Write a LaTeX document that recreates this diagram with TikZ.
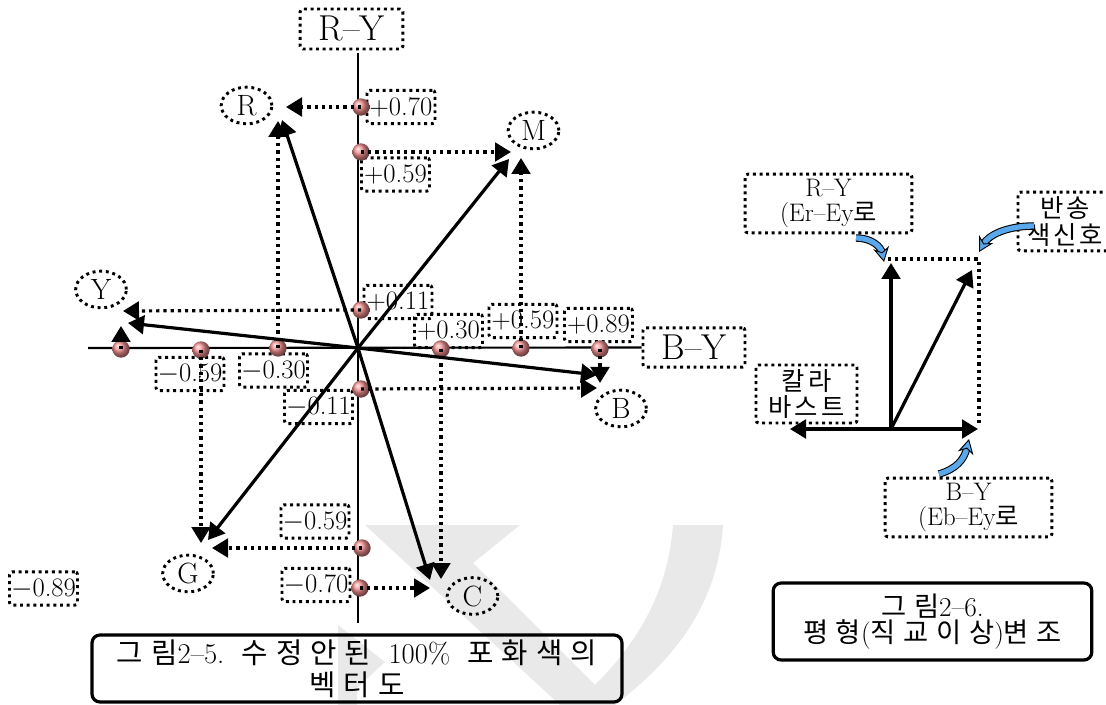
\documentclass[tikz,border=0pt]{standalone}
\usepackage{fontspec}
\newfontfamily\krf[LetterSpace=12]{Noto Sans CJK KR}
\newfontfamily\krw[LetterSpace=28]{Noto Sans CJK KR}
\usetikzlibrary{arrows.meta,shapes.geometric}
\definecolor{wm}{RGB}{233,233,233}
\definecolor{ballc}{RGB}{238,140,140}
\definecolor{arrblue}{RGB}{88,168,235}
\newcommand\numfont{\fontsize{20}{21}\selectfont}
\newcommand\lblfont{\fontsize{22}{23}\selectfont}
\newcommand\bigfont{\fontsize{27}{28}\selectfont}
\newcommand\midfont{\fontsize{19}{19}\selectfont}
\newcommand\capfont{\fontsize{21.5}{24}\selectfont}
\newcommand\capfontb{\fontsize{20.5}{20}\selectfont}
\tikzset{
  dotln/.style={line width=2.4pt, dash pattern=on 2.4pt off 3pt},
  dotbox/.style={draw, line width=2.2pt, dash pattern=on 2.2pt off 2.8pt, rounded corners=2pt, inner sep=0pt, align=center},
  numbox/.style={dotbox, minimum width=51pt, minimum height=25pt, font=\numfont},
  ell/.style={ellipse, draw, line width=2.2pt, dash pattern=on 2.2pt off 2.8pt, minimum width=38pt, minimum height=27.5pt, inner sep=0pt, font=\lblfont},
  arrtip/.style={-{Triangle[length=12pt,width=14pt]}},
  solidarr/.style={line width=2.4pt, arrtip},
  dotarr/.style={dotln, arrtip},
  axisln/.style={line width=1.6pt},
  ballnode/.style={circle, minimum size=13pt, inner sep=0pt, shade, ball color=ballc},
  capbox/.style={draw, line width=2.4pt, rounded corners=6pt, align=center, inner sep=0pt},
  bluearr/.style={draw=arrblue, line width=4pt,
     preaction={draw=black, line width=5.6pt, arrows=-, shorten >=7pt},
     -{Stealth[length=11pt,width=12pt,fill=arrblue,color=black,line width=0.7pt]}}
}
\begin{document}
\begin{tikzpicture}[x=0.75pt,y=-0.75pt]
\useasboundingbox (0,0) rectangle (1106,705);
% watermark
\fill[wm] (365,525) -- (520,525) -- (473,563) -- (595,685)
   .. controls (640,640) and (668,590) .. (673,525) -- (723,525)
   .. controls (718,600) and (680,655) .. (615,705) -- (560,705) -- cycle;
\fill[wm] (338,625) -- (385,662) -- (357,688) -- (357,705) -- (338,705) -- cycle;

% ===== left diagram =====
\coordinate (O) at (358,348);
\coordinate (axT) at (358,53);
\coordinate (axB) at (358,623);
\coordinate (axL) at (88,348);
\node[dotbox, minimum width=77pt, minimum height=30pt, font=\bigfont] (RY) at (351.5,29) {R--Y};
\node[dotbox, minimum width=76.5pt, minimum height=29.5pt, font=\bigfont] (BY) at (694,347.5) {B--Y};
\draw[axisln] (axT) -- (axB);
\draw[axisln] (axL) -- (BY.west);

\node[ell] (R) at (246.5,105.5) {R};
\node[ell] (M) at (533.5,130.5) {M};
\node[ell] (Y) at (101,289.5) {Y};
\node[ell] (B) at (621,408.5) {B};
\node[ell] (G) at (188,573.5) {G};
\node[ell] (C) at (472.5,596) {C};

\node[numbox] (n070) at (401,107) {+0.70};
\node[numbox] (n059) at (395.5,174.5) {+0.59};
\node[numbox] (n011) at (398,302) {+0.11};
\node[numbox] (n030) at (448.5,331) {+0.30};
\node[numbox] (n059h) at (523,321) {+0.59};
\node[numbox] (n089) at (598.5,325) {+0.89};
\node[numbox] (m059) at (190,374) {$-$0.59};
\node[numbox] (m030) at (273.5,370.5) {$-$0.30};
\node[numbox] (m011) at (318.5,407) {$-$0.11};
\node[numbox] (m059v) at (315,521.5) {$-$0.59};
\node[numbox] (m070) at (316,585) {$-$0.70};
\node[numbox] (m089) at (43.5,588.5) {$-$0.89};

\node[ballnode] (b070) at (361,107) {};
\node[ballnode] (b059) at (361,152) {};
\node[ballnode] (b011) at (361,310) {};
\node[ballnode] (bm089) at (121,349) {};
\node[ballnode] (bm059) at (201,350) {};
\node[ballnode] (bm030) at (278,348) {};
\node[ballnode] (bm011) at (361,389) {};
\node[ballnode] (b030) at (441,349) {};
\node[ballnode] (b059h) at (521,348) {};
\node[ballnode] (b089) at (600,349) {};
\node[ballnode] (bm059v) at (362,548) {};
\node[ballnode] (bm070) at (360,588) {};

% arrow tip points
\coordinate (tR) at (282,120);
\coordinate (tRd) at (278,121);
\coordinate (tRh) at (286,107);
\coordinate (tM) at (509,159);
\coordinate (tMh) at (511,152);
\coordinate (tMv) at (521,158);
\coordinate (tY) at (128,323);
\coordinate (tYh) at (123,311);
\coordinate (tYv) at (121,326);
\coordinate (tB) at (597,375);
\coordinate (tBh) at (597,388);
\coordinate (tBv) at (600,383);
\coordinate (tC) at (430,580);
\coordinate (tCv) at (441,579);
\coordinate (tCh) at (430,588);
\coordinate (tG) at (208,540);
\coordinate (tGv) at (201,543);
\coordinate (tGh) at (212,548);

% dotted arrows
\draw[dotarr] (b070.center) -- (tRh);
\draw[dotarr] (b059.center) -- (tMh);
\draw[dotarr] (b011.center) -- (tYh);
\draw[dotarr] (bm089.center) -- (tYv);
\draw[dotarr] (bm030.center) -- (tRd);
\draw[dotarr] (bm059.center) -- (tGv);
\draw[dotarr] (bm011.center) -- (tBh);
\draw[dotarr] (b030.center) -- (tCv);
\draw[dotarr] (b059h.center) -- (tMv);
\draw[dotarr] (b089.center) -- (tBv);
\draw[dotarr] (bm059v.center) -- (tGh);
\draw[dotarr] (bm070.center) -- (tCh);

% solid vectors
\draw[solidarr] (O) -- (tR);
\draw[solidarr] (O) -- (tM);
\draw[solidarr] (O) -- (tY);
\draw[solidarr] (O) -- (tB);
\draw[solidarr] (O) -- (tC);
\draw[solidarr] (O) -- (tG);

\node[capbox, minimum width=397.5pt, minimum height=50.25pt, font=\capfont] (cap1) at (357,668.5)
  {{\krw 그림}2--5.\ \ {\krw 수정안된}\ \ 100\%\ \ {\krw 포화색의}\\{\krw 벡터도}};

% ===== right diagram =====
\coordinate (O2) at (891,429);
\coordinate (u2) at (891,263);
\coordinate (d2) at (972,270);
\coordinate (r2) at (978,429);
\coordinate (l2) at (790,429);
\coordinate (rc1) at (888,259);
\coordinate (rc2) at (979,259);
\coordinate (rc3) at (979,427);
\draw[dotln] (rc1) -- (rc2) -- (rc3);
\draw[solidarr] (O2) -- (u2);
\draw[solidarr] (O2) -- (d2);
\draw[solidarr] (O2) -- (r2);
\draw[solidarr] (O2) -- (l2);

\node[dotbox, minimum width=125pt, minimum height=44pt, font=\midfont] (RY2) at (828.5,203.5)
  {R--Y\\(Er--Ey{\krf 로}};
\node[dotbox, minimum width=70.5pt, minimum height=44pt, font=\midfont, text width=70pt] (BS) at (1065,221.5)
  {{\krf 반송}\\[1pt]{\krf 색신호}};
\node[dotbox, minimum width=75.75pt, minimum height=43.5pt, font=\midfont] (CB) at (806.5,394)
  {{\krf 칼라}\\{\krf 바스트}};
\node[dotbox, minimum width=125pt, minimum height=44pt, font=\midfont] (BY2) at (968.5,507.5)
  {B--Y\\(Eb--Ey{\krf 로}};

\coordinate (ba1s) at (856,238);
\coordinate (ba1e) at (884,262);
\coordinate (ba2s) at (1034,226);
\coordinate (ba2e) at (979,252);
\coordinate (ba3s) at (939,474);
\coordinate (ba3e) at (969,439);
\draw[bluearr] (ba1s) .. controls (872,238) and (881,247) .. (ba1e);
\draw[bluearr] (ba2s) .. controls (1005,226) and (988,236) .. (ba2e);
\draw[bluearr] (ba3s) .. controls (956,469) and (964,460) .. (ba3e);

\node[capbox, minimum width=239pt, minimum height=57.75pt, font=\capfontb] (cap2) at (932.5,621.5)
  {{\krw 그림}2--6.\\{\krw 평형}({\krw 직교이상}){\krw 변조}};
\end{tikzpicture}
\end{document}
